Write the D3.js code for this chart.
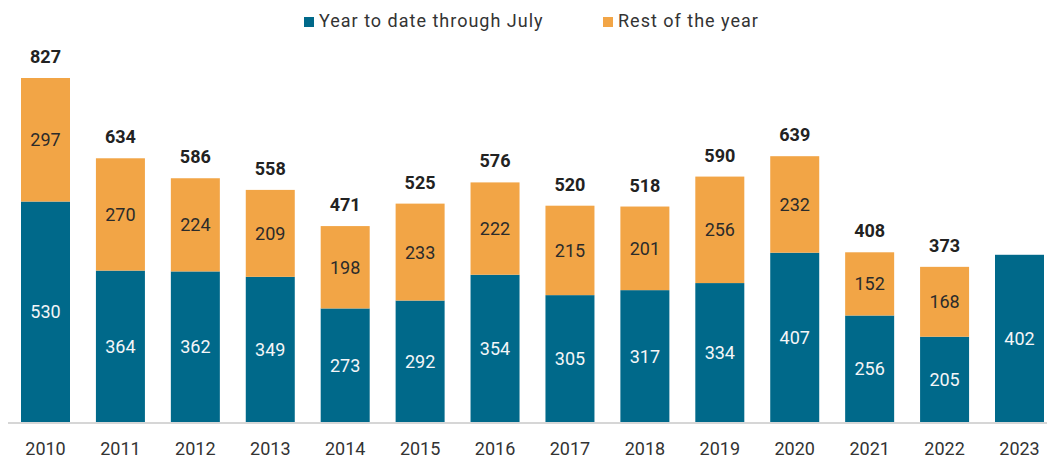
<!DOCTYPE html>
<html>
<head>
<meta charset="utf-8">
<script src="https://cdn.jsdelivr.net/npm/d3@7"></script>
<style>
  body { margin: 0; background: #fff; }
  svg text { font-family: Roboto, "Liberation Sans", sans-serif; }
</style>
</head>
<body>
<div id="chart"></div>
<script>
// Chart data
var years = ["2010", "2011", "2012", "2013", "2014", "2015", "2016", "2017", "2018", "2019", "2020", "2021", "2022", "2023"];
var ytdValues = [530, 364, 362, 349, 273, 292, 354, 305, 317, 334, 407, 256, 205, 402];
var restValues = [297, 270, 224, 209, 198, 233, 222, 215, 201, 256, 232, 152, 168, 0];
var seriesNames = ["Year to date through July", "Rest of the year"];

var svgWidth = 1047;
var svgHeight = 461;
var colors = ["#00698A", "#F2A546"];

var svg = d3.select("#chart")
  .append("svg")
  .attr("width", svgWidth)
  .attr("height", svgHeight);

var data = years.map(function(y, i) {
  return { year: y, ytd: ytdValues[i], rest: restValues[i] };
});

var xScale = d3.scaleBand()
  .domain(years)
  .range([21, 1044])
  .paddingInner(0.346)
  .paddingOuter(0);

var yScale = d3.scaleLinear()
  .domain([0, 827])
  .range([422, 78]);

var stack = d3.stack().keys(["ytd", "rest"]);
var series = stack(data);

// bars
var layers = svg.selectAll(".layer")
  .data(series)
  .enter()
  .append("g")
  .attr("class", "layer")
  .attr("fill", (d, i) => colors[i]);

layers.selectAll("rect")
  .data(d => d.filter(p => p[1] - p[0] > 0))
  .enter()
  .append("rect")
  .attr("x", d => xScale(d.data.year))
  .attr("y", d => yScale(d[1]))
  .attr("width", xScale.bandwidth())
  .attr("height", d => yScale(d[0]) - yScale(d[1]));

// segment labels
layers.selectAll("text")
  .data(d => d.filter(p => p[1] - p[0] > 0))
  .enter()
  .append("text")
  .attr("x", d => xScale(d.data.year) + xScale.bandwidth() / 2)
  .attr("y", d => (yScale(d[0]) + yScale(d[1])) / 2)
  .attr("dy", "0.36em")
  .attr("text-anchor", "middle")
  .style("font-size", "18px")
  .attr("fill", function(d) { return this.parentNode.__data__.key == "ytd" ? "#f4f6f8" : "#2b2b2b"; })
  .text(d => d[1] - d[0]);

// totals (only years with both parts)
svg.append("g")
  .selectAll("text")
  .data(data.filter(d => d.rest > 0))
  .enter()
  .append("text")
  .attr("x", d => xScale(d.year) + xScale.bandwidth() / 2)
  .attr("y", d => yScale(d.ytd + d.rest) - 15)
  .attr("text-anchor", "middle")
  .style("font-size", "18px")
  .style("font-weight", "bold")
  .attr("fill", "#222")
  .text(d => d.ytd + d.rest);

// baseline
svg.append("line")
  .attr("x1", 8)
  .attr("x2", svgWidth)
  .attr("y1", yScale(0) + 1)
  .attr("y2", yScale(0) + 1)
  .attr("stroke", "#d6d6d6")
  .attr("stroke-width", 2);

// x axis
var bottomAxis = d3.axisBottom(xScale).tickSize(0).tickPadding(0);
var axisG = svg.append("g")
  .attr("transform", `translate(0, ${yScale(0)})`)
  .call(bottomAxis);
axisG.select(".domain").remove();
axisG.selectAll("text")
  .attr("y", 33)
  .attr("dy", 0)
  .style("font-size", "18px")
  .style("font-family", "Roboto, sans-serif")
  .attr("fill", "#333");

// legend
var legendX = [304, 603];
var legend = svg.append("g")
  .selectAll("g")
  .data(seriesNames)
  .enter()
  .append("g")
  .attr("transform", (d, i) => `translate(${legendX[i]}, 17)`);

legend.append("rect")
  .attr("width", 10)
  .attr("height", 10)
  .attr("fill", (d, i) => colors[i]);

legend.append("text")
  .attr("x", 15)
  .attr("y", 10)
  .style("font-size", "18px")
  .style("letter-spacing", "1px")
  .attr("fill", "#333")
  .text(d => d);
</script>
</body>
</html>
